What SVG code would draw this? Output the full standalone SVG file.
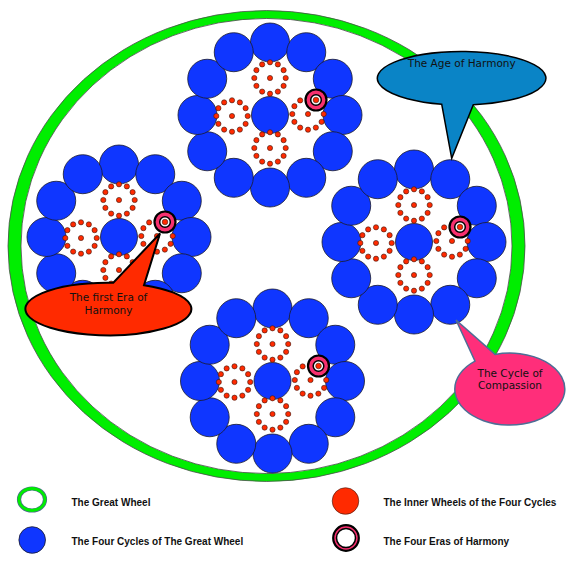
<svg xmlns="http://www.w3.org/2000/svg" xmlns:xlink="http://www.w3.org/1999/xlink" width="574" height="566" viewBox="0 0 574 566">
<style>
.blue{fill:#0f36ff;stroke:#1a1a2a;stroke-width:0.8}
.dot{fill:#ff2a00;stroke:#3a1a10;stroke-width:0.6}
.co{font-family:"DejaVu Sans","Liberation Sans",sans-serif;font-size:10.5px;fill:#111;text-anchor:middle}
.lg{font-family:"Liberation Sans",Arial,sans-serif;font-size:10px;font-weight:bold;fill:#111}
</style>
<defs>
<circle id="b" r="19.5" class="blue"/>
<g id="iw">
<circle class="dot" r="2.6" cx="0" cy="0"/>
<circle class="dot" r="2.6" cx="15.7" cy="0"/>
<circle class="dot" r="2.6" cx="13.6" cy="7.85"/>
<circle class="dot" r="2.6" cx="7.85" cy="13.6"/>
<circle class="dot" r="2.6" cx="0" cy="15.7"/>
<circle class="dot" r="2.6" cx="-7.85" cy="13.6"/>
<circle class="dot" r="2.6" cx="-13.6" cy="7.85"/>
<circle class="dot" r="2.6" cx="-15.7" cy="0"/>
<circle class="dot" r="2.6" cx="-13.6" cy="-7.85"/>
<circle class="dot" r="2.6" cx="-7.85" cy="-13.6"/>
<circle class="dot" r="2.6" cx="0" cy="-15.7"/>
<circle class="dot" r="2.6" cx="7.85" cy="-13.6"/>
<circle class="dot" r="2.6" cx="13.6" cy="-7.85"/>
</g>
<g id="cyc">
<use xlink:href="#b" x="0" y="-72.5"/>
<use xlink:href="#b" x="36.25" y="-62.79"/>
<use xlink:href="#b" x="62.79" y="-36.25"/>
<use xlink:href="#b" x="72.5" y="0"/>
<use xlink:href="#b" x="62.79" y="36.25"/>
<use xlink:href="#b" x="36.25" y="62.79"/>
<use xlink:href="#b" x="0" y="72.5"/>
<use xlink:href="#b" x="-36.25" y="62.79"/>
<use xlink:href="#b" x="-62.79" y="36.25"/>
<use xlink:href="#b" x="-72.5" y="0"/>
<use xlink:href="#b" x="-62.79" y="-36.25"/>
<use xlink:href="#b" x="-36.25" y="-62.79"/>
<circle r="18.5" class="blue"/>
<use xlink:href="#iw" x="0" y="-37"/>
<use xlink:href="#iw" x="-38" y="1"/>
<use xlink:href="#iw" x="0" y="33"/>
<use xlink:href="#iw" x="38" y="-1"/>
</g>
<g id="era">
<circle r="10.5" fill="#f7306f" stroke="#000" stroke-width="2.2"/>
<circle r="5.3" fill="#fff" stroke="#000" stroke-width="1.5"/>
<circle r="2.8" class="dot"/>
</g>
</defs>
<rect width="574" height="566" fill="#fff"/>
<g id="great-wheel">
<path fill="#00ee00" fill-rule="evenodd" stroke="#4a4a4a" stroke-width="0.8" d="M8,246 A258,235 0 1 0 525,246 A258,235 0 1 0 8,246 Z M21,246 A245,227 0 1 0 512,246 A245,227 0 1 0 21,246 Z"/>
</g>
<g id="cycle-top" transform="translate(270,115)"><use xlink:href="#cyc"/></g>
<g id="cycle-left" transform="translate(119,237)"><use xlink:href="#cyc"/></g>
<g id="cycle-right" transform="translate(414,242)"><use xlink:href="#cyc"/></g>
<g id="cycle-bottom" transform="translate(272.5,381)"><use xlink:href="#cyc"/></g>
<g id="era-top" transform="translate(316,100)"><use xlink:href="#era"/></g>
<g id="era-left" transform="translate(165,222)"><use xlink:href="#era"/></g>
<g id="era-right" transform="translate(460,227)"><use xlink:href="#era"/></g>
<g id="era-bottom" transform="translate(318.5,366)"><use xlink:href="#era"/></g>
<g id="callout-age">
<path d="M441.7,104.2 A84.3,26.7 0 1 1 473.3,104.7 L451.7,158.3 Z" fill="#0a84c6" stroke="#000" stroke-width="1.5" stroke-linejoin="miter"/>
<text class="co" x="461.7" y="66.5">The Age of Harmony</text>
</g>
<g id="callout-first-era">
<path d="M144,285.2 A83,26.3 0 1 1 113.3,282.7 L160,233.5 Z" fill="#ff2a00" stroke="#000" stroke-width="2"/>
<text class="co" x="108.5" y="300.5">The first Era of</text>
<text class="co" x="108.5" y="314">Harmony</text>
</g>
<g id="callout-compassion">
<path d="M495,354.4 A55,36 0 1 1 475,361.2 L456,320 Z" fill="#ff2e7a" stroke="#4d6e96" stroke-width="1.5"/>
<text class="co" x="510" y="376.7">The Cycle of</text>
<text class="co" x="510" y="389.3">Compassion</text>
</g>
<g id="legend">
<g id="legend-great-wheel">
<ellipse cx="32" cy="499.5" rx="13" ry="11" fill="#fff" stroke="#4a6e8a" stroke-width="4.2"/>
<ellipse cx="32" cy="499.5" rx="13" ry="11" fill="none" stroke="#00ee00" stroke-width="2.8"/>
<text class="lg" x="71.5" y="505.5">The Great Wheel</text>
</g>
<g id="legend-cycles">
<circle cx="32.2" cy="540" r="13.3" class="blue"/>
<text class="lg" x="71.5" y="544.5">The Four Cycles of The Great Wheel</text>
</g>
<g id="legend-inner">
<circle cx="345.5" cy="501" r="13.3" class="dot"/>
<text class="lg" x="383.5" y="505.5">The Inner Wheels of the Four Cycles</text>
</g>
<g id="legend-eras">
<circle cx="346" cy="538" r="12.8" fill="#f7306f" stroke="#000" stroke-width="2.2"/>
<circle cx="346" cy="538" r="9.5" fill="#fff" stroke="#000" stroke-width="1.5"/>
<text class="lg" x="383.5" y="544.5">The Four Eras of Harmony</text>
</g>
</g>
</svg>
